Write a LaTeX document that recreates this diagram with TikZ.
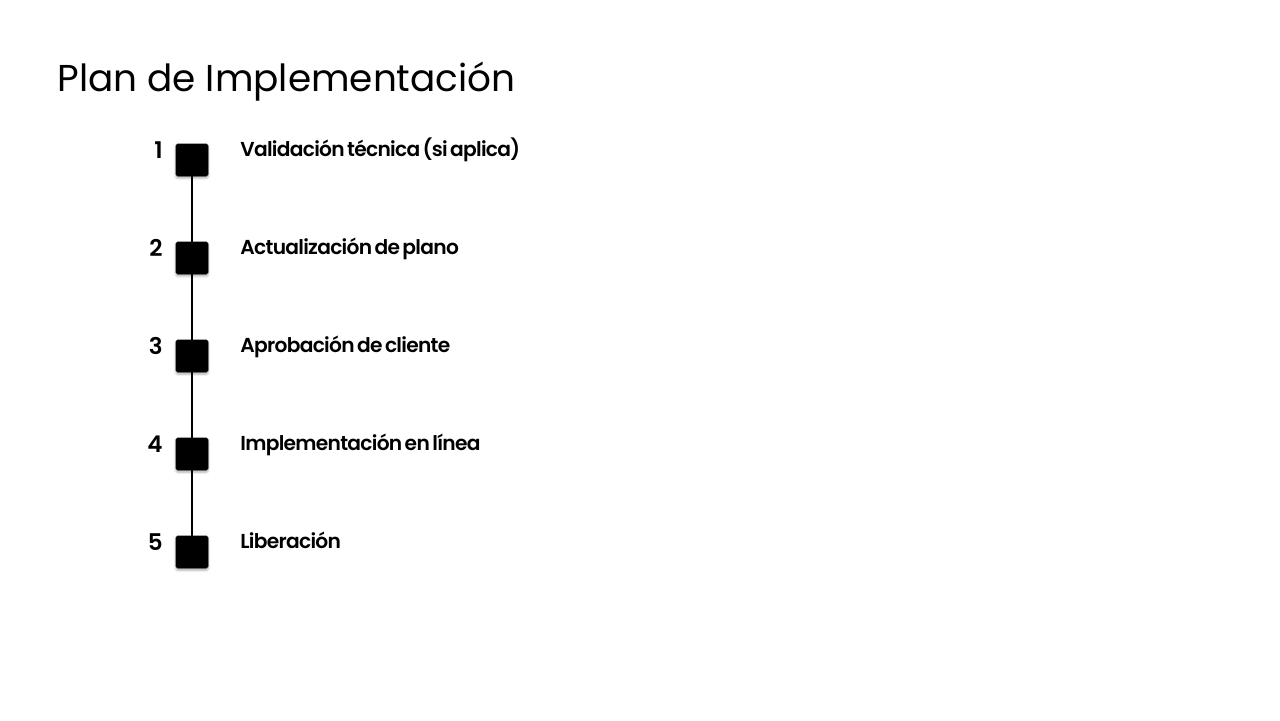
\documentclass[tikz,border=0pt]{standalone}
\usepackage{fontspec}
\setmainfont{Poppins}
\newfontfamily\stepfont[LetterSpace=-3.5, WordSpace=0.6, BoldFont={Poppins SemiBold}]{Poppins}
\usepackage{tikz}
\usetikzlibrary{shadows,shadows.blur}
\tikzstyle{stepsq} = [draw=black, fill=black, minimum size=16pt, inner sep=0pt, rounded corners=0.8pt, blur shadow={shadow xshift=0pt, shadow yshift=-1pt, shadow blur radius=1.2pt, shadow opacity=35}]
\tikzstyle{stepnum} = [anchor=base east, inner sep=0pt, font=\stepfont\fontsize{11.5}{13}\selectfont\bfseries]
\tikzstyle{steptext} = [anchor=base west, inner sep=0pt, font=\stepfont\fontsize{10.1}{12}\selectfont\bfseries]
\tikzstyle{link} = [line width=1.3pt, color=black]

\begin{document}
\begin{tikzpicture}[x=0.5pt, y=0.5pt]
\useasboundingbox (0,0) rectangle (1280,720);

% Title
\node[anchor=base west, inner sep=0pt, font=\fontsize{18.7}{22}\selectfont] (title) at (57,629) {Plan de Implementación};

% Squares
\node[stepsq] (s1) at (192,560) {};
\node[stepsq] (s2) at (192,462) {};
\node[stepsq] (s3) at (192,364) {};
\node[stepsq] (s4) at (192,266) {};
\node[stepsq] (s5) at (192,168) {};

% Links
\draw[link] (s1.south) -- (s2.north);
\draw[link] (s2.south) -- (s3.north);
\draw[link] (s3.south) -- (s4.north);
\draw[link] (s4.south) -- (s5.north);

% Numbers
\node[stepnum] (n1) at (163,562) {1};
\node[stepnum] (n2) at (163,464) {2};
\node[stepnum] (n3) at (163,366) {3};
\node[stepnum] (n4) at (163,268) {4};
\node[stepnum] (n5) at (163,170) {5};

% Labels
\node[steptext] (t1) at (240,564) {Validación técnica (si aplica)};
\node[steptext] (t2) at (240,466) {Actualización de plano};
\node[steptext] (t3) at (240,368) {Aprobación de cliente};
\node[steptext] (t4) at (240,270) {Implementación en línea};
\node[steptext] (t5) at (240,172) {Liberación};
\end{tikzpicture}
\end{document}
